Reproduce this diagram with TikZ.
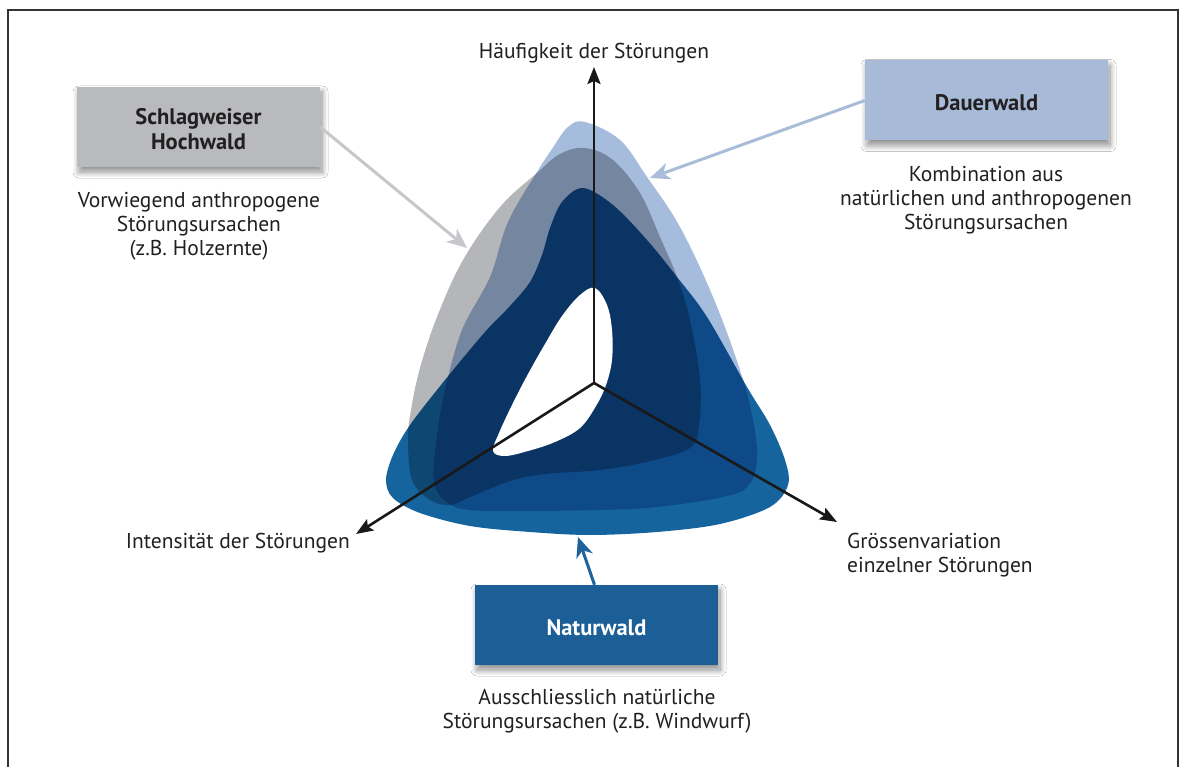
\documentclass[tikz,border=0pt]{standalone}
\usepackage{fontspec}
\setmainfont{PT Sans}
\usetikzlibrary{arrows.meta,shadows.blur}
\definecolor{ink}{HTML}{231F20}
\definecolor{graybox}{HTML}{B9BABD}
\definecolor{lbbox}{HTML}{A7BBD9}
\definecolor{nbox}{HTML}{1C5F97}
\definecolor{grayarr}{HTML}{C5C7CA}
\definecolor{lbarr}{HTML}{A9BDDA}
\definecolor{narr}{HTML}{1E639B}
\definecolor{shG}{HTML}{B4B6BA}
\definecolor{shLB}{HTML}{A6BCDC}
\definecolor{shN}{HTML}{16649E}
\definecolor{frame}{HTML}{333333}
\begin{document}
\begin{tikzpicture}[x=1pt,y=-1pt,
  every node/.style={text=ink},
  txt/.style={font=\fontsize{21.5}{24}\selectfont, inner sep=0pt},
  captxt/.style={txt, align=center},
  box/.style={minimum width=243pt, minimum height=80pt, inner sep=0pt,
    blur shadow={shadow xshift=2pt, shadow yshift=-5pt, shadow blur radius=6pt, shadow blur steps=12, shadow opacity=45}},
  boxtxt/.style={font=\fontsize{22.5}{25}\selectfont\bfseries, align=center, inner sep=0pt, yshift=-2.5pt},
  axis/.style={line width=2.6pt, draw=black!90, -{Stealth[length=17pt,width=13pt,inset=3pt]}},
  conn/.style={line width=3pt, -{Stealth[length=20pt,width=17pt,inset=6pt]}},
  blob/.style={blend mode=multiply}
]
\useasboundingbox (0,0) rectangle (1184,767);
\fill[white] (0,0) rectangle (1184,767);
\draw[frame, line width=2pt] (8,767) -- (8,10) -- (1178,10) -- (1178,767);

% shapes
\fill[shLB, blob] plot[smooth cycle, tension=0.6] coordinates {
  (585,122) (620,140) (647,177) (680,227) (713,297) (740,370) (753,420) (757,460)
  (748,486) (723,497) (657,507) (600,510) (520,511) (470,510) (448,503) (434,482)
  (437,435) (445,390) (462,330) (490,277) (508,222) (537,172) (552,149) (568,127)};
\fill[shG, blob] plot[smooth cycle, tension=0.6] coordinates {
  (585,148) (613,160) (640,193) (660,237) (677,277) (690,320) (700,380) (699,425)
  (690,448) (650,461) (600,470) (545,474) (510,481) (470,497) (450,505) (430,500)
  (412,480) (408,440) (411,410) (420,368) (437,317) (463,260) (500,207) (537,173) (560,154)};
\fill[shN, blob] plot[smooth cycle, tension=0.55] coordinates {
  (583,188) (613,205) (647,240) (677,277) (707,317) (747,387) (770,425) (785,460)
  (788,485) (770,507) (720,524) (657,532) (590,535) (530,532) (470,526) (420,513)
  (393,498) (386,480) (393,455) (410,425) (445,380) (485,332) (510,306) (530,282)
  (542,255) (550,228) (562,202)};
\fill[white] plot[smooth cycle, tension=0.6] coordinates {
  (595,288) (607,305) (612,330) (612,360) (606,385) (596,406) (580,428) (555,442)
  (528,451) (505,456) (493,451) (499,433) (512,405) (528,374) (545,344) (562,316) (580,295)};

% axes
\coordinate (O) at (594,383);
\coordinate (up) at (594,67);
\coordinate (left) at (356,534);
\coordinate (right) at (837,522);
\draw[axis] (O) -- (up);
\draw[axis] (O) -- (left);
\draw[axis] (O) -- (right);

\node[txt] (lup) at (594,53) {Häufigkeit der Störungen};
\node[txt, anchor=east] (lleft) at (350,543) {Intensität der Störungen};
\node[txt, align=left, anchor=west] (lright) at (847,555) {Grössenvariation\\einzelner Störungen};

% boxes
\node[box, fill=graybox, label={[boxtxt]center:Schlagweiser\\Hochwald}] (gbox) at (198.5,127) {};
\node[box, fill=lbbox, label={[boxtxt]center:Dauerwald}] (dbox) at (986.5,100.5) {};
\node[box, fill=nbox, label={[boxtxt, text=white]center:Naturwald}] (nbox) at (596.5,625) {};

\node[captxt] (gcap) at (199,226) {Vorwiegend anthropogene\\Störungsursachen\\(z.B. Holzernte)};
\node[captxt] (dcap) at (986,200) {Kombination aus\\natürlichen und anthropogenen\\Störungsursachen};
\node[captxt] (ncap) at (597,711) {Ausschliesslich natürliche\\Störungsursachen (z.B. Windwurf)};

% connectors
\coordinate (gtip) at (467,248);
\coordinate (dtip) at (650,178);
\coordinate (ntip) at (578,537);
\draw[conn, grayarr] (gbox.east) -- (gtip);
\draw[conn, lbarr] (dbox.west) -- (dtip);
\draw[conn, narr] ([xshift=-2pt]nbox.north) -- (ntip);
\end{tikzpicture}
\end{document}
